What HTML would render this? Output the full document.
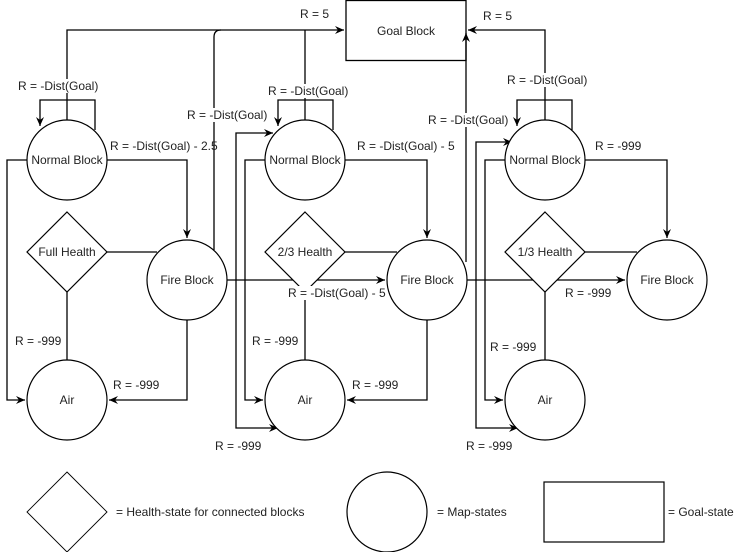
<!DOCTYPE html>
<html><head><style>
html,body{margin:0;padding:0;background:#fff;}
svg{display:block;}
text{font-family:"Liberation Sans",Arial,sans-serif;font-size:12px;fill:#222;}
</style></head><body>
<svg width="748" height="552" viewBox="0 0 748 552" xmlns="http://www.w3.org/2000/svg">
<defs>
<marker id="a" markerWidth="10" markerHeight="10" refX="9" refY="5" orient="auto" markerUnits="userSpaceOnUse">
<path d="M0,1 L9,5 L0,9 L3,5 Z" fill="#000"/>
</marker>
</defs>
<g fill="none" stroke="#000" stroke-width="1.3">
<!-- Goal block -->
<rect x="346" y="0.5" width="120" height="60" fill="#fff"/>
<!-- to goal from left -->
<path d="M67,120 V30 H344" marker-end="url(#a)"/>
<path d="M305,120 V30"/>
<path d="M214,250 V37 Q214,30 221,30"/>
<!-- to goal from right -->
<path d="M545,120 V30 H468" marker-end="url(#a)"/>
<path d="M466,262 V33" marker-end="url(#a)"/>
<!-- self loops -->
<path d="M95,130 V100 H40 V126" marker-end="url(#a)"/>
<path d="M333,130 V100 H278 V126" marker-end="url(#a)"/>
<path d="M572,130 V100 H517 V126" marker-end="url(#a)"/>
<!-- normal -> fire -->
<path d="M107,160 H187 V238" marker-end="url(#a)"/>
<path d="M345,160 H427 V238" marker-end="url(#a)"/>
<path d="M585,160 H667 V238" marker-end="url(#a)"/>
<!-- diamond -> fire -->
<path d="M107,252 H157"/>
<path d="M345,252 H397"/>
<path d="M585,252 H637"/>
<!-- normal left -> air -->
<path d="M27,160 H7 V400 H25" marker-end="url(#a)"/>
<path d="M265,160 H245 V400 H263" marker-end="url(#a)"/>
<path d="M505,160 H485 V400 H503" marker-end="url(#a)"/>
<!-- diamond -> air -->
<path d="M67,292 V360"/>
<path d="M305,292 V360"/>
<path d="M545,292 V360"/>
<!-- fire -> air -->
<path d="M187,320 V400 H109" marker-end="url(#a)"/>
<path d="M427,320 V400 H347" marker-end="url(#a)"/>
<!-- fire -> next column -->
<path d="M227,280 H385" marker-end="url(#a)"/>
<path d="M236,280 V133 H273" marker-end="url(#a)"/>
<path d="M236,280 V428 H278" marker-end="url(#a)"/>
<path d="M467,280 H625" marker-end="url(#a)"/>
<path d="M476,280 V142 H512" marker-end="url(#a)"/>
<path d="M476,280 V428 H518" marker-end="url(#a)"/>
</g>
<!-- nodes -->
<g fill="#fff" stroke="#000" stroke-width="1.2">
<circle cx="67" cy="160" r="40"/><circle cx="305" cy="160" r="40"/><circle cx="545" cy="160" r="40"/>
<polygon points="67,212 107,252 67,292 27,252"/>
<polygon points="305,212 345,252 305,292 265,252"/>
<polygon points="545,212 585,252 545,292 505,252"/>
<circle cx="67" cy="400" r="40"/><circle cx="305" cy="400" r="40"/><circle cx="545" cy="400" r="40"/>
<circle cx="187" cy="280" r="40"/><circle cx="427" cy="280" r="40"/><circle cx="667" cy="280" r="40"/>
<!-- legend -->
<polygon points="67,472 107,512 67,552 27,512" stroke-width="0.9"/>
<ellipse cx="387" cy="512" rx="40" ry="40"/>
<rect x="544" y="482" width="120" height="60"/>
</g>
<!-- label backgrounds + text -->
<g text-anchor="middle">
<text x="406" y="35">Goal Block</text>
<text x="67" y="164">Normal Block</text><text x="305" y="164">Normal Block</text><text x="545" y="164">Normal Block</text>
<text x="67" y="256">Full Health</text><text x="305" y="256">2/3 Health</text><text x="545" y="256">1/3 Health</text>
<text x="67" y="404">Air</text><text x="305" y="404">Air</text><text x="545" y="404">Air</text>
<text x="187" y="284">Fire Block</text><text x="427" y="284">Fire Block</text><text x="667" y="284">Fire Block</text>
</g>
<g fill="#fff">
<rect x="18" y="79" width="80" height="14"/>
<rect x="186" y="108" width="82" height="14"/>
<rect x="268" y="84" width="80" height="14"/>
<rect x="507" y="73" width="80" height="14"/>
<rect x="428" y="113" width="80" height="14"/>
<rect x="287" y="286" width="98" height="14"/>
</g>
<text x="18" y="90">R = -Dist(Goal)</text>
<text x="187" y="119">R = -Dist(Goal)</text>
<text x="268" y="95">R = -Dist(Goal)</text>
<text x="507" y="84">R = -Dist(Goal)</text>
<text x="428" y="124">R = -Dist(Goal)</text>
<text x="300" y="18">R = 5</text>
<text x="483" y="20">R = 5</text>
<text x="110" y="150">R = -Dist(Goal) - 2.5</text>
<text x="357" y="150">R = -Dist(Goal) - 5</text>
<text x="288" y="297">R = -Dist(Goal) - 5</text>
<text x="595" y="150">R = -999</text>
<text x="565" y="297">R = -999</text>
<text x="15" y="345">R = -999</text>
<text x="252" y="345">R = -999</text>
<text x="490" y="351">R = -999</text>
<text x="113" y="389">R = -999</text>
<text x="352" y="389">R = -999</text>
<text x="215" y="450">R = -999</text>
<text x="466" y="450">R = -999</text>
<text x="116" y="516">= Health-state for connected blocks</text>
<text x="437" y="516">= Map-states</text>
<text x="668" y="516">= Goal-state</text>
</svg>
</body></html>
